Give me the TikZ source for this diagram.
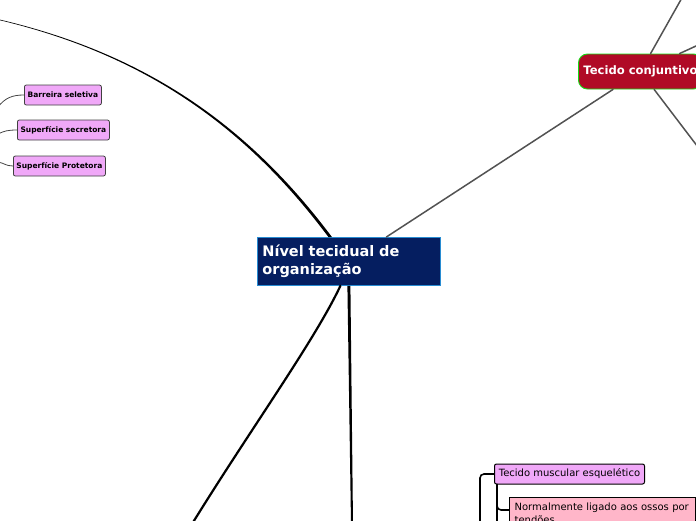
\documentclass[tikz,border=0pt]{standalone}
\usepackage{fontspec}
\setmainfont{DejaVu Sans}
\usetikzlibrary{positioning}
\definecolor{hubblue}{RGB}{5,30,96}
\definecolor{hubedge}{RGB}{40,140,210}
\definecolor{conjred}{RGB}{176,10,38}
\definecolor{conjedge}{RGB}{20,220,20}
\definecolor{leafviolet}{RGB}{240,168,248}
\definecolor{notepink}{RGB}{255,182,201}
\definecolor{twiggray}{RGB}{70,70,70}

\begin{document}
\begin{tikzpicture}[x=1pt,y=-1pt,line cap=round,
  hub/.style={draw=hubedge,fill=hubblue,text=white,font=\fontsize{14.5}{18}\selectfont\bfseries,align=left,text width=173pt,minimum height=48pt,inner xsep=5pt,inner ysep=2pt,anchor=north west,line width=0.8pt},
  conj/.style={draw=conjedge,fill=conjred,text=white,font=\fontsize{11.6}{13}\selectfont\bfseries,rounded corners=9pt,minimum height=35pt,inner xsep=5pt,anchor=west,line width=0.9pt},
  leaf/.style={draw=black!75,fill=leafviolet,rounded corners=2pt,font=\fontsize{7.5}{9}\selectfont\bfseries,minimum height=20pt,anchor=west,inner sep=0pt,line width=0.8pt},
  muscle/.style={draw=black,fill=leafviolet,rounded corners=2pt,font=\fontsize{10}{12}\selectfont,minimum height=20pt,minimum width=150pt,anchor=west,inner sep=0pt,line width=1pt},
  note/.style={draw=black,fill=notepink,font=\fontsize{10}{13}\selectfont,align=left,text width=176pt,inner xsep=5pt,inner ysep=5pt,anchor=north west,line width=1.2pt},
  link/.style={draw=black!68,line width=1.5pt},
  twig/.style={draw=twiggray,line width=0.8pt},
  elbow/.style={draw=black,line width=1.6pt,rounded corners=4pt}]
\useasboundingbox (0,0) rectangle (696,520);
\clip (0,0) rectangle (696,520);

\node[hub] (hub) at (257,237) {Nível tecidual de\\organização};
\node[conj] (conj) at (578,71.5) {Tecido conjuntivo};

\node[leaf,minimum width=77pt] (barreira) at (24,95) {Barreira seletiva};
\node[leaf,minimum width=92pt] (secretora) at (17,130) {Superfície secretora};
\node[leaf,minimum width=92pt] (protetora) at (13,166) {Superfície Protetora};

\node[muscle] (musc) at (494,474) {Tecido muscular esquelético};
\node[note] (tendao) at (509,497) {Normalmente ligado aos ossos por\\tendões};

\coordinate (tl) at (-2,19.5);
\coordinate (bl) at (192,524);
\coordinate (bm) at (352,524);
\coordinate (c1) at (683,-4);
\coordinate (c2) at (720,35);
\coordinate (c3) at (720,176);
\coordinate (t1) at (-2,107);
\coordinate (t2) at (-2,134);
\coordinate (t3) at (-2,162);
\coordinate (m1) at (480,524);
\coordinate (m2) at (497,524);

\draw[link] (conj) -- (hub);
\draw[link] (conj) -- (c1);
\draw[link] (conj) -- (c2);
\draw[link] (conj) -- (c3);

\fill ([yshift=0.3pt]tl) .. controls (150,54.4) and (251,129) .. ([xshift=-17pt]hub.north)
  -- ([xshift=-20.5pt]hub.north) .. controls (249,131) and (150,55.6) .. ([yshift=-0.3pt]tl) -- cycle;
\draw[line width=2.2pt] ([xshift=-8.5pt]hub.south) .. controls (315,340) and (250,430) .. (bl);
\fill ([xshift=-1.5pt]hub.south) -- ([xshift=1.5pt]hub.south) -- ([xshift=1pt]bm) -- ([xshift=-1pt]bm) -- cycle;

\draw[twig] (barreira.west) .. controls (12,95) and (5,98) .. (t1);
\draw[twig] (secretora.west) .. controls (8,130) and (4,131) .. (t2);
\draw[twig] (protetora.west) .. controls (6,166) and (4,163) .. (t3);

\draw[elbow] (musc.west) -| (m1);
\draw[elbow] ([xshift=3pt]musc.south west) |- ([yshift=3pt]tendao.west);
\draw[elbow] ([xshift=3pt]musc.south west) -- (m2);
\end{tikzpicture}
\end{document}
